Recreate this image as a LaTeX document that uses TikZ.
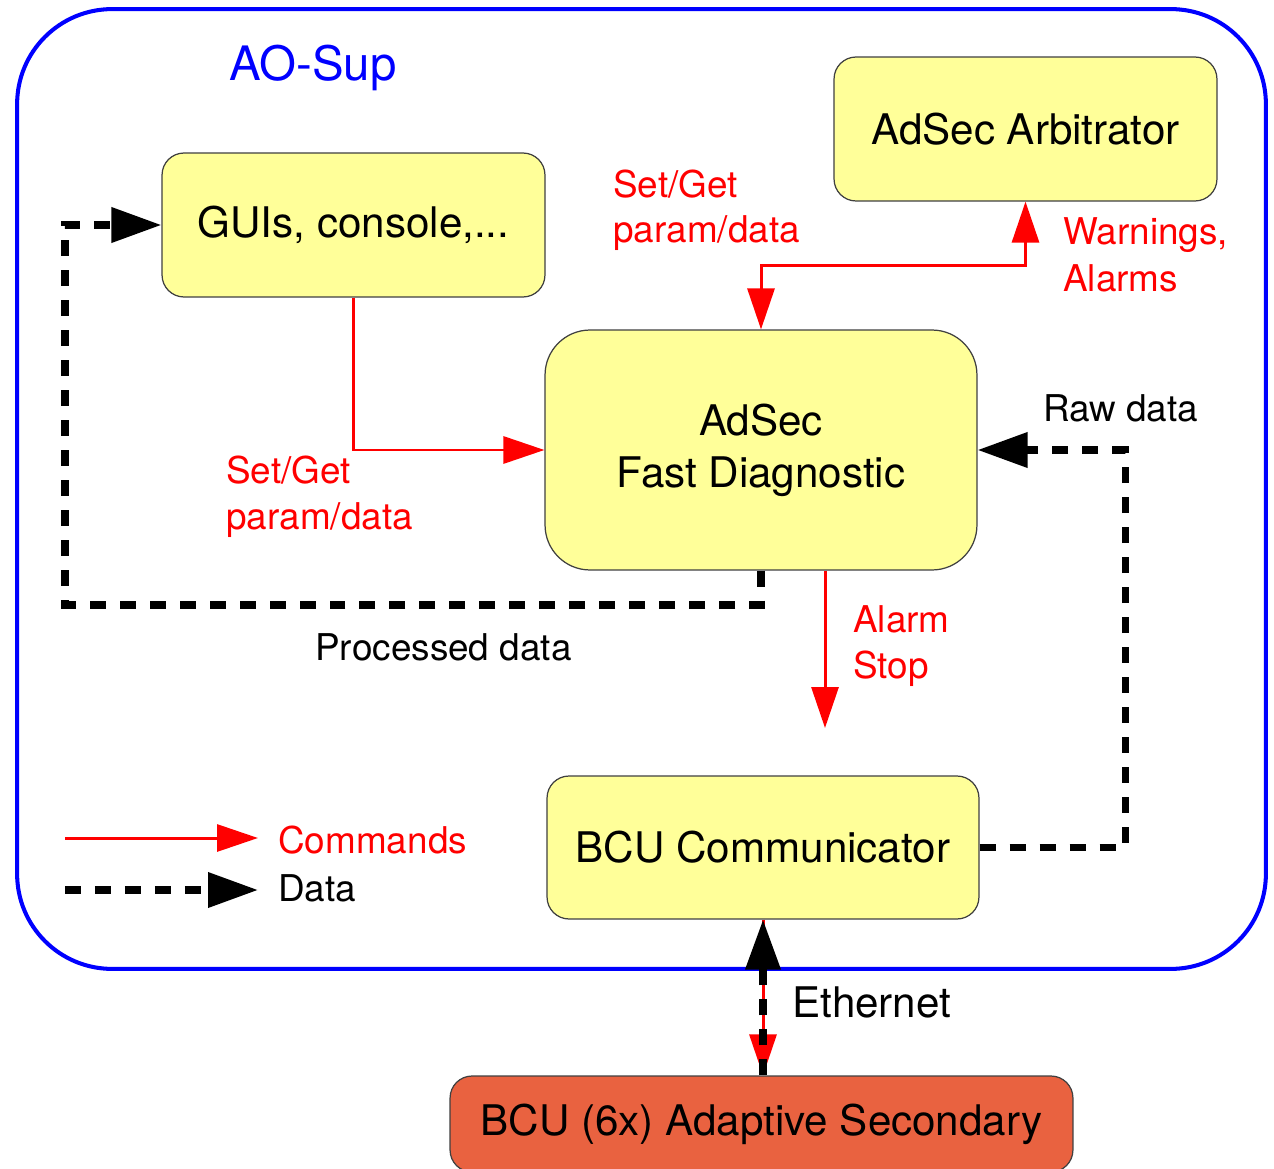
\documentclass[tikz,border=0pt]{standalone}
\usepackage{fontspec}
\setmainfont{TeX Gyre Heros}
\usetikzlibrary{arrows.meta}
\definecolor{boxyellow}{RGB}{255,255,153}
\definecolor{bcured}{RGB}{233,98,64}
\tikzset{
  block/.style={draw=black!75, line width=0.7pt, fill=boxyellow, rounded corners=0.44cm,
    inner sep=0pt, align=center, font=\fontsize{24}{29.6}\selectfont},
  redtip/.style={-{Triangle[length=0.82cm,width=0.54cm]}},
  cmd/.style={draw=red, line width=1.7pt, redtip},
  cmdboth/.style={draw=red, line width=1.7pt, {Triangle[length=0.82cm,width=0.54cm]}-{Triangle[length=0.82cm,width=0.54cm]}},
  datalink/.style={draw=black, line width=4pt, dash pattern=on 0.32cm off 0.28cm,
    -{Triangle[length=1cm,width=0.68cm]}},
  lbl/.style={anchor=base west, inner sep=0pt, font=\fontsize{21}{26.5}\selectfont},
  redlbl/.style={lbl, text=red},
}
\newcommand{\twolines}[2]{\begin{tabular}[t]{@{}l@{}}#1\\#2\end{tabular}}
\begin{document}
\begin{tikzpicture}[x=0.02cm,y=-0.02cm]
  \clip (0,0) rectangle (1274,1169);
  \fill[white] (0,0) rectangle (1274,1169);

  % supervisor frame
  \node[draw=blue, line width=2.3pt, rounded corners=1.9cm, inner sep=0pt,
        minimum width=24.98cm, minimum height=19.2cm] (sup) at (641.5,489) {};
  \node[anchor=base west, inner sep=0pt, text=blue, font=\fontsize{27}{32}\selectfont] (suptitle) at (229,81) {AO-Sup};

  % components
  \node[block, minimum width=7.66cm, minimum height=2.88cm] (gui) at (353.5,225) {GUIs, console,...};
  \node[block, minimum width=7.66cm, minimum height=2.88cm] (arb) at (1025.5,129) {AdSec Arbitrator};
  \node[block, rounded corners=0.9cm, minimum width=8.64cm, minimum height=4.8cm] (fd) at (761,450) {AdSec\\Fast Diagnostic};
  \node[block, minimum width=8.64cm, minimum height=2.86cm] (bc) at (763,847.5) {BCU Communicator};
  \node[block, fill=bcured, minimum width=12.46cm, minimum height=1.92cm] (bcu) at (761.5,1124) {BCU (6x) Adaptive Secondary};

  % commands
  \draw[cmd] (gui.south) |- (fd.west);
  \draw[cmdboth] (arb.south) -- ++(0,64) -| (fd.north);
  \coordinate (stop) at (825,728);
  \draw[cmd] (fd.south -| stop) -- (stop);

  % data
  \coordinate (pl) at (65,605);
  \draw[datalink] (fd.south) |- (pl) |- (gui.west);
  \coordinate (rr) at (1125,450);
  \draw[datalink] (bc.east) -| (rr) -- (fd.east);

  % ethernet link
  \draw[cmd] (bc.south) -- (bc.south |- bcu.north);
  \draw[datalink] (bc.south |- bcu.north) -- (bc.south);

  % labels
  \node[redlbl] (l1) at (613,198) {\fontsize{21}{25.6}\selectfont\twolines{Set/Get}{param/data}};
  \node[redlbl] (l2) at (1063,244) {\fontsize{21}{27.3}\selectfont\twolines{Warnings,}{Alarms}};
  \node[redlbl] (l3) at (226,483) {\fontsize{21}{26.7}\selectfont\twolines{Set/Get}{param/data}};
  \node[redlbl] (l4) at (853,632) {\fontsize{21}{26.2}\selectfont\twolines{Alarm}{Stop}};
  \node[lbl] (l5) at (1043,421) {Raw data};
  \node[lbl] (l6) at (315,660) {Processed data};
  \node[lbl, font=\fontsize{24}{29}\selectfont] (l7) at (792,1017) {Ethernet};

  % legend
  \coordinate (c1) at (65,838);
  \coordinate (c2) at (258,838);
  \draw[cmd] (c1) -- (c2);
  \node[redlbl] (lc) at (278,853) {Commands};
  \coordinate (d1) at (65,890);
  \coordinate (d2) at (258,890);
  \draw[datalink] (d1) -- (d2);
  \node[lbl] (ld) at (278,901) {Data};
\end{tikzpicture}
\end{document}
